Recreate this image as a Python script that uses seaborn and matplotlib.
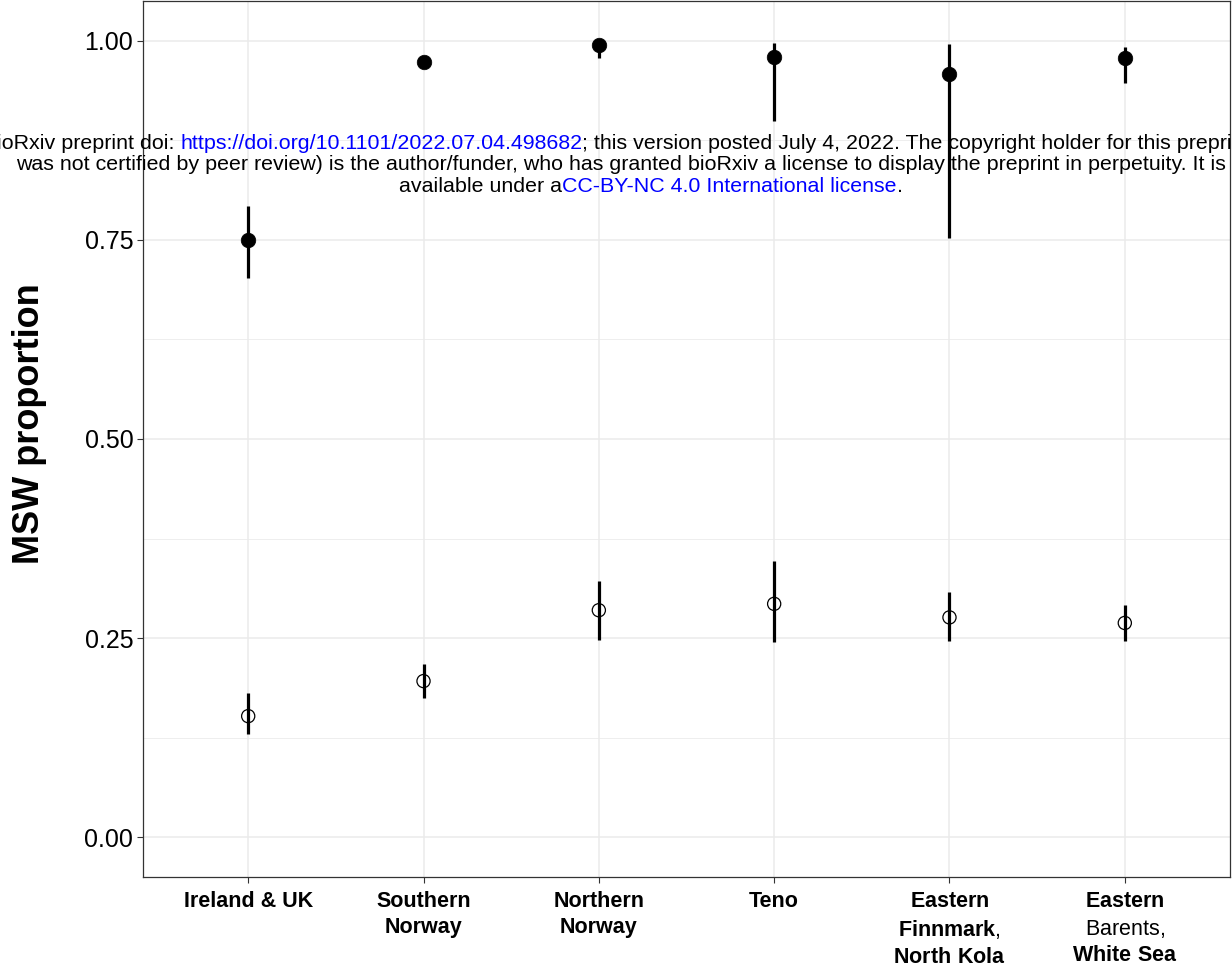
import numpy as np
import pandas as pd
import matplotlib
matplotlib.use("Agg")
from matplotlib import pyplot as plt
import seaborn as sns

# regions along x (order of the reference)
regions = ["Ireland & UK", "Southern Norway", "Northern Norway", "Teno",
           "Eastern Finnmark, North Kola", "Eastern Barents, White Sea"]
# tick labels; the last two mix bold and regular through mathtext
tick_labels = [
    "Ireland & UK",
    "Southern\nNorway",
    "Northern\nNorway",
    "Teno",
    r"$\mathbf{Eastern}$" "\n" r"$\mathbf{Finnmark}\mathrm{,}$" "\n" r"$\mathbf{North\ Kola}$",
    r"$\mathbf{Eastern}$" "\n" r"$\mathrm{Barents,}$" "\n" r"$\mathbf{White\ Sea}$",
]

# filled points (upper series) with interval ends
filled_prop = [0.750, 0.974, 0.995, 0.980, 0.958, 0.979]
filled_lo = [0.702, 0.966, 0.978, 0.899, 0.753, 0.947]
filled_hi = [0.793, 0.981, 1.000, 0.997, 0.996, 0.992]
# open points (lower series) with interval ends
open_prop = [0.152, 0.196, 0.285, 0.293, 0.276, 0.269]
open_lo = [0.129, 0.175, 0.248, 0.245, 0.246, 0.246]
open_hi = [0.181, 0.217, 0.322, 0.347, 0.308, 0.291]

y_ticks = [0.0, 0.25, 0.5, 0.75, 1.0]
y_minor = [0.125, 0.375, 0.625, 0.875]

df = pd.DataFrame({
    "region": regions * 2,
    "group": ["filled"] * len(regions) + ["open"] * len(regions),
    "prop": filled_prop + open_prop,
    "lo": filled_lo + open_lo,
    "hi": filled_hi + open_hi,
})

sns.set_theme(style="white")
plt.rcParams["font.family"] = ["Liberation Sans", "DejaVu Sans"]
plt.rcParams["mathtext.fontset"] = "custom"
plt.rcParams["mathtext.rm"] = "Liberation Sans"
plt.rcParams["mathtext.bf"] = "Liberation Sans:bold"

W, H = 1232, 977
fig = plt.figure(figsize=(W / 100, H / 100), dpi=100)
ax = fig.add_axes([143 / W, 1 - 877 / H, 1087 / W, 876 / H])

sns.scatterplot(data=df[df.group == "filled"], x="region", y="prop",
                color="black", edgecolor="black", s=110, linewidth=0.5,
                zorder=3, ax=ax, legend=False)
sns.scatterplot(data=df[df.group == "open"], x="region", y="prop",
                facecolor="none", edgecolor="black", s=90, linewidth=0.9,
                zorder=3, ax=ax, legend=False)
ax.vlines(df["region"], df["lo"], df["hi"], color="black", lw=2.3, zorder=2)

ax.set_xlim(-0.6, len(regions) - 0.4)
ax.set_ylim(-0.05, 1.05)
ax.set_xticks(range(len(regions)))
ax.set_xticklabels(tick_labels, fontsize=15.5, linespacing=1.35, color="black")
for lab in ax.get_xticklabels():
    lab.set_fontweight("bold")
ax.set_yticks(y_ticks)
ax.set_yticklabels([f"{v:.2f}" for v in y_ticks], fontsize=18, color="black")
ax.set_yticks(y_minor, minor=True)

ax.grid(which="major", color="#EBEBEB", lw=1.1)
ax.grid(which="minor", axis="y", color="#EBEBEB", lw=0.6)
ax.set_axisbelow(True)
ax.tick_params(axis="both", which="major", length=4, width=0.8,
               color="#333333", direction="out", bottom=True, left=True)
ax.tick_params(axis="x", pad=6)
ax.tick_params(axis="y", pad=3)
ax.tick_params(which="minor", length=0)
for sp in ax.spines.values():
    sp.set_color("#333333")
    sp.set_linewidth(0.9)

ax.set_xlabel("")
ax.set_ylabel("MSW proportion", fontsize=26, fontweight="bold", color="black")
ax.yaxis.set_label_coords(-0.088, 0.517)

# preprint watermark, three centred lines with blue links
wm_lines = [
    [("bioRxiv preprint doi: ", "black"),
     ("https://doi.org/10.1101/2022.07.04.498682", "blue"),
     ("; this version posted July 4, 2022. The copyright holder for this preprint (which", "black")],
    [("was not certified by peer review) is the author/funder, who has granted bioRxiv a license to display the preprint in perpetuity. It is made", "black")],
    [("available under a", "black"),
     ("CC-BY-NC 4.0 International license", "blue"),
     (".", "black")],
]
wm_baselines = [149, 170.5, 192]
wm_size = 15.4
wm_center = 651

renderer = fig.canvas.get_renderer()


def text_width(s):
    t = fig.text(0, 0, s, fontsize=wm_size)
    w = t.get_window_extent(renderer).width
    t.remove()
    return w


for pieces, yb in zip(wm_lines, wm_baselines):
    full = "".join(p for p, _ in pieces)
    left = wm_center - text_width(full) / 2
    start = 0
    wx = text_width("x")
    for piece, col in pieces:
        x = left if start == 0 else left + text_width(full[:start] + "x") - wx
        fig.text(x / W, 1 - yb / H, piece, color=col, fontsize=wm_size,
                 ha="left", va="baseline", zorder=10)
        start += len(piece)

fig.savefig("out.png", dpi=100)
